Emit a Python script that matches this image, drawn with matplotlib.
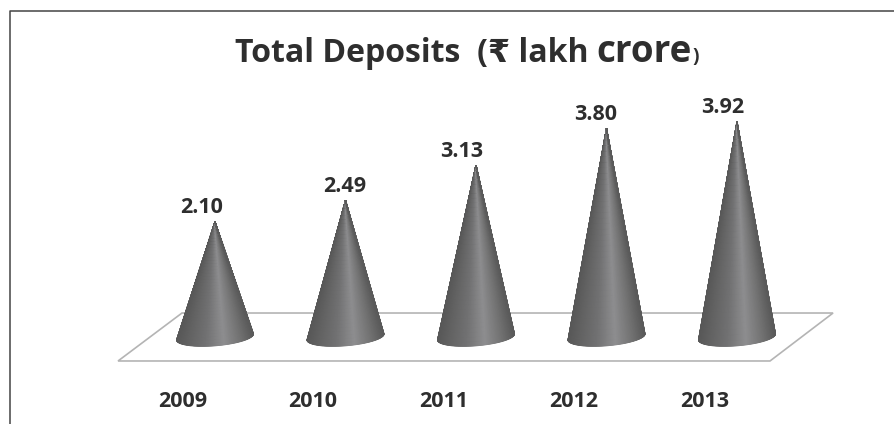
"""Total deposits drawn as shaded cones on a flat grey platform."""
import numpy as np
import matplotlib
matplotlib.use("Agg")
import matplotlib.pyplot as plt
from matplotlib.colors import LinearSegmentedColormap
from matplotlib.patches import Polygon

years = ["2009", "2010", "2011", "2012", "2013"]
deposits = [2.10, 2.49, 3.13, 3.80, 3.92]

W, H = 894, 424
PX_X = 130.5   # pixels per category
PX_Y = 54.9    # pixels per unit of value
X0, Y0 = 215, 337  # pixel position of category 0, value 0

FONT = ["Open Sans", "DejaVu Sans"]
INK = "#2e2e2e"

fig = plt.figure(figsize=(W / 100, H / 100), dpi=100)
ax = fig.add_axes([0, 0, 1, 1])
ax.axis("off")

# platform
plat = Polygon([(-0.743, -0.437), (4.253, -0.437), (4.736, 0.437), (-0.253, 0.437)],
               closed=True, fill=False, ec="#b4b4b4", lw=1.2, zorder=1)
ax.add_patch(plat)

shade = LinearSegmentedColormap.from_list(
    "cone", [(0, "#585858"), (0.15, "#636363"), (0.38, "#727273"), (0.62, "#8e8e90"),
             (0.85, "#717171"), (1, "#5a5a5a")])

half = 0.295   # half width of a cone base, in categories
rim = 0.16     # depth of the base ellipse, in value units
tilt = 0.055   # right side of the base sits higher than the left
label_dx = [-13, -1, -14, -11, -14]  # labels are not centred over the tips, pixels

t = np.linspace(np.pi, 2 * np.pi, 121)
along = np.linspace(0, 1, 40)
across = (np.cos(t) + 1) / 2

for i, (year, val) in enumerate(zip(years, deposits)):
    # quads run from the base rim to the apex, so the shading converges on the tip
    mx = i + half * np.outer(1 - along, np.cos(t))
    my = np.outer(1 - along, rim * np.sin(t) + tilt * np.cos(t)) + val * along[:, None]
    ax.pcolormesh(mx, my, np.tile(across, (len(along), 1)), cmap=shade, vmin=0, vmax=1,
                  shading="gouraud", zorder=2)
    ax.text(i + label_dx[i] / PX_X, val + 0.065, f"{val:.2f}", ha="center", va="bottom",
            fontsize=15.5, fontweight="bold", family=FONT, color=INK)
    ax.text(i - 0.25, -1.18, year, ha="center", va="center",
            fontsize=15.5, fontweight="bold", family=FONT, color=INK)

ax.set_xlim(-X0 / PX_X, (W - X0) / PX_X)
ax.set_ylim((Y0 - H) / PX_Y, Y0 / PX_Y)

# title, pieces of different size set one after another
y_title = 1 - 62 / H
parts = [("Total Deposits  (\u20b9 lakh ", 23), ("crore", 26.5), (")", 14)]
fig.canvas.draw()
x = 235 / W
for s, size in parts:
    txt = fig.text(x, y_title, s.replace(" ", "\u00a0"), ha="left", va="baseline", fontsize=size,
                   fontweight="bold", family=FONT, color=INK)
    x = txt.get_window_extent().x1 / W

# frame, only top and left edges are visible
fig.add_artist(plt.Line2D([9.5 / W, 9.5 / W, 1], [0, 1 - 10.5 / H, 1 - 10.5 / H],
                          color="#444444", lw=1.1, transform=fig.transFigure))

fig.savefig("out.png", dpi=100)
